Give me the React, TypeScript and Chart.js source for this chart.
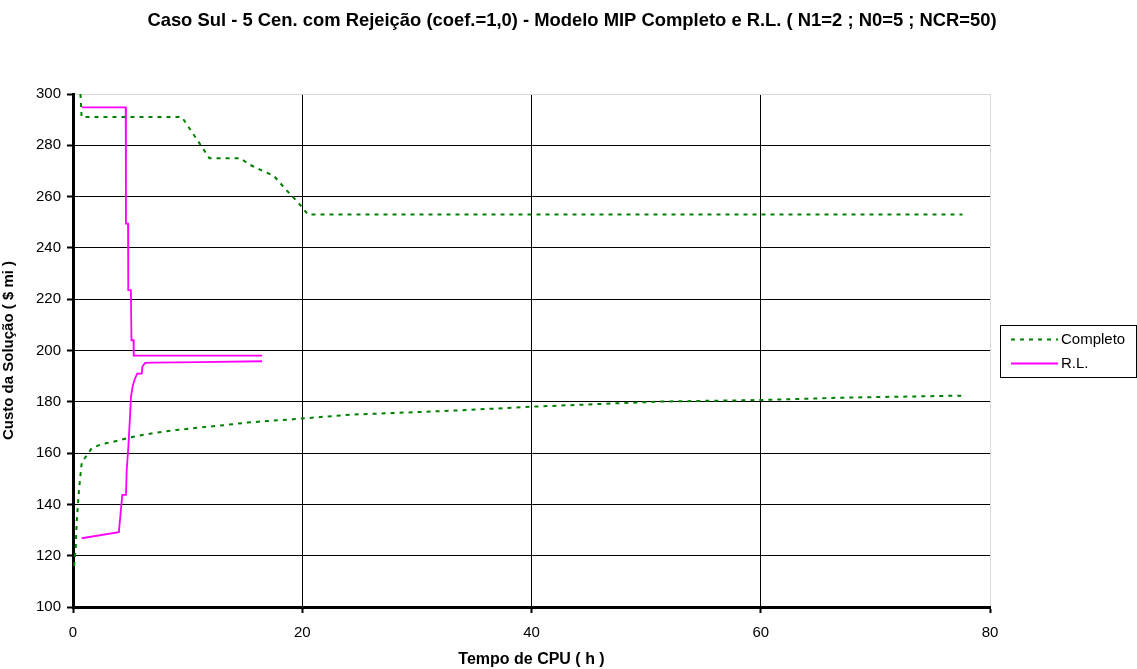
import React, { useEffect, useRef } from "react";
import { Chart, registerables } from "chart.js";

Chart.register(...registerables);

const FONT = "'Liberation Sans', Arial, Helvetica, sans-serif";

const chartTitle =
  "Caso Sul - 5 Cen. com Rejeição (coef.=1,0) - Modelo MIP Completo e R.L. ( N1=2 ; N0=5 ; NCR=50)";
const xAxisTitle = "Tempo de CPU ( h )";
const yAxisTitle = "Custo da Solução ( $ mi )";
const seriesNames = ["Completo", "R.L."];

// Axis ranges and tick steps
const xTicks = [0, 20, 40, 60, 80];
const yTicks = [100, 120, 140, 160, 180, 200, 220, 240, 260, 280, 300];

// Completo: upper bound (incumbent), a break, then the lower bound
const completoX = [
  0.65, 0.75, 9.5, 11.9, 14.6, 15.3, 16.7, 17.5, 18.6, 19.7, 20.5, 77.6,
  null,
  0.1, 0.24, 0.32, 0.41, 0.52, 0.61, 0.76, 1.34, 1.63, 2.5, 3.5, 4.7, 5.6, 7.3, 9.0,
  11.1, 13.4, 15.2, 16.9, 19.2, 24.2, 27.8, 33.4, 40.1, 46.8, 51.3, 60.1, 67.0, 77.5,
];
const completoY = [
  300, 291, 291, 275, 275, 272.7, 269.7, 268.2, 262.6, 257.4, 253, 253,
  null,
  116, 123.5, 132.7, 138.6, 145.6, 149.5, 156.3, 160, 161.9, 163.5, 164.4, 165.8, 166.7, 168, 169,
  170, 171, 171.9, 172.5, 173.2, 175.0, 175.6, 176.6, 178.1, 179.3, 180.1, 180.7, 181.6, 182.4,
];

// R.L.: upper bound, a break, then the lower bound
const rlX = [
  0.76, 4.6, 4.62, 4.8, 4.82, 5.05, 5.1, 5.28, 5.3, 16.5,
  null,
  0.76, 4.0, 4.3, 4.62, 4.68, 4.83, 4.97, 5.06, 5.2, 5.4, 5.6, 6.0, 6.05, 6.3, 6.9, 11.0, 16.5,
];
const rlY = [
  294.8, 294.8, 249.5, 249.5, 223.5, 223.5, 204, 204, 198, 198,
  null,
  126.8, 129.2, 143.7, 143.7, 153, 162.5, 174, 182, 186, 189, 191, 191, 193.7, 195.2, 195.3, 195.5, 195.8,
];

const toPoints = (xs: (number | null)[], ys: (number | null)[]) =>
  xs.map((x, i) => ({ x: x === null ? NaN : x, y: ys[i] === null ? NaN : ys[i] }));

// Title centred over the whole figure
const figureTitle = {
  id: "figureTitle",
  afterDraw(chart: any) {
    const ctx = chart.ctx as CanvasRenderingContext2D;
    ctx.save();
    ctx.fillStyle = "#000000";
    ctx.font = `bold 18.4px ${FONT}`;
    ctx.textAlign = "center";
    ctx.textBaseline = "middle";
    ctx.fillText(chartTitle, 572, 21);
    ctx.restore();
  },
};

// Boxed legend at the right of the plot
const boxLegend = {
  id: "boxLegend",
  afterDraw(chart: any) {
    const ctx = chart.ctx as CanvasRenderingContext2D;
    const left = 1000;
    const top = 325;
    const w = 136;
    const h = 52;
    ctx.save();
    ctx.fillStyle = "#ffffff";
    ctx.fillRect(left, top, w, h);
    ctx.strokeStyle = "#000000";
    ctx.lineWidth = 1;
    ctx.strokeRect(left + 0.5, top + 0.5, w, h);
    const rows = [chart.data.datasets[0], chart.data.datasets[1]];
    rows.forEach((ds: any, i: number) => {
      const y = top + 14 + i * 24;
      ctx.strokeStyle = ds.borderColor;
      ctx.lineWidth = ds.borderWidth;
      ctx.setLineDash(ds.borderDash || []);
      ctx.beginPath();
      ctx.moveTo(left + 11, y + 0.5);
      ctx.lineTo(left + 58, y + 0.5);
      ctx.stroke();
      ctx.setLineDash([]);
      ctx.fillStyle = "#000000";
      ctx.font = `15px ${FONT}`;
      ctx.textBaseline = "middle";
      ctx.textAlign = "left";
      ctx.fillText(ds.label, left + 61, y + 1);
    });
    ctx.restore();
  },
};

export default function App() {
  const canvasRef = useRef<HTMLCanvasElement | null>(null);

  useEffect(() => {
    if (!canvasRef.current) return;
    const chart = new Chart(canvasRef.current, {
      type: "line",
      data: {
        datasets: [
          {
            label: seriesNames[0],
            data: toPoints(completoX, completoY),
            borderColor: "#008000",
            borderWidth: 2,
            borderDash: [4, 5],
            pointRadius: 0,
            fill: false,
            spanGaps: false,
            tension: 0,
            order: 1,
          },
          {
            label: seriesNames[1],
            data: toPoints(rlX, rlY),
            borderColor: "#ff00ff",
            borderWidth: 1.8,
            pointRadius: 0,
            fill: false,
            spanGaps: false,
            tension: 0,
            order: 0,
          },
        ],
      },
      options: {
        responsive: false,
        animation: false,
        parsing: { xAxisKey: "x", yAxisKey: "y" },
        layout: { padding: { left: 0, right: 147, top: 94, bottom: 0 } },
        font: { family: FONT },
        plugins: {
          legend: { display: false },
          tooltip: { enabled: false },
          title: { display: false },
        },
        scales: {
          x: {
            type: "linear",
            min: xTicks[0],
            max: xTicks[xTicks.length - 1],
            afterFit: (s: any) => {
              s.height = 62;
            },
            ticks: {
              stepSize: xTicks[1] - xTicks[0],
              color: "#000",
              font: { family: FONT, size: 15 },
              padding: 11,
              maxRotation: 0,
            },
            grid: {
              color: (c: any) => (c.tick && c.tick.value === xTicks[xTicks.length - 1] ? "#d9d9d9" : "#000"),
              tickColor: "#000",
              tickLength: 6,
              tickWidth: 2,
              lineWidth: 1,
            },
            border: { display: true, color: "#000", width: 3 },
            title: {
              display: true,
              text: xAxisTitle,
              color: "#000",
              font: { family: FONT, size: 16, weight: "bold" },
              padding: { top: 0, bottom: 0 },
            },
          },
          y: {
            type: "linear",
            min: yTicks[0],
            max: yTicks[yTicks.length - 1],
            afterFit: (s: any) => {
              s.width = 73;
            },
            ticks: {
              stepSize: yTicks[1] - yTicks[0],
              color: "#000",
              font: { family: FONT, size: 15 },
              padding: 6,
            },
            grid: {
              color: (c: any) => (c.tick && c.tick.value === yTicks[yTicks.length - 1] ? "#d9d9d9" : "#000"),
              tickColor: "#000",
              tickLength: 6,
              tickWidth: 2,
              lineWidth: 1,
            },
            border: { display: true, color: "#000", width: 3 },
            title: {
              display: true,
              text: yAxisTitle,
              color: "#000",
              font: { family: FONT, size: 15, weight: "bold" },
              padding: { top: 0, bottom: 0 },
            },
          },
        },
      },
      plugins: [figureTitle, boxLegend],
    });
    return () => chart.destroy();
  }, []);

  return (
    <div style={{ position: "absolute", left: 0, top: 0, width: 1137, height: 669, background: "#fff" }}>
      <canvas ref={canvasRef} width={1137} height={669} />
    </div>
  );
}
